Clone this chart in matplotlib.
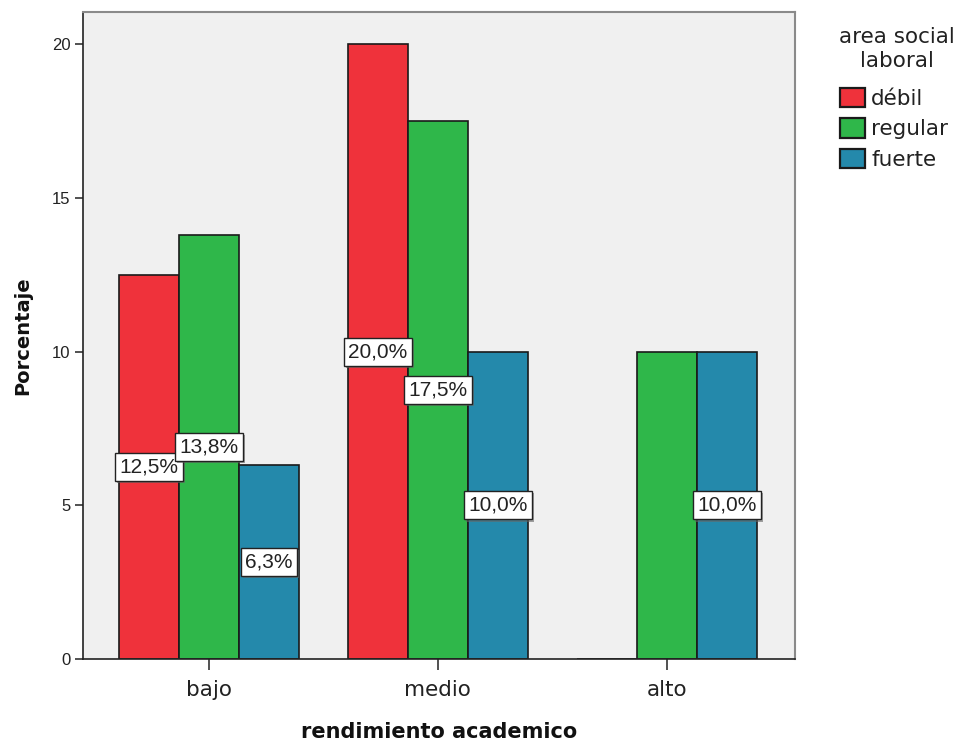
import matplotlib
matplotlib.use("Agg")
import matplotlib.pyplot as plt
import matplotlib.patheffects as pe
import numpy as np

categories = ["bajo", "medio", "alto"]
series_names = ["débil", "regular", "fuerte"]
debil = [12.5, 20.0, 0.0]
regular = [13.8, 17.5, 10.0]
fuerte = [6.3, 10.0, 10.0]
# which bar labels are displayed in the original (alto/regular label is hidden)
show_debil = [True, True, False]
show_regular = [True, True, False]
show_fuerte = [True, True, True]
colors = ["#EF323B", "#2FB74A", "#2489AB"]
legend_title_lines = ["area social", "laboral"]

fig = plt.figure(figsize=(9.65, 7.44), dpi=100)
ax = fig.add_axes([0.086, 0.1142, 0.738, 0.8697])
ax.set_facecolor("#F0F0F0")

x = np.arange(len(categories))
w = 0.262
series = [debil, regular, fuerte]
shows = [show_debil, show_regular, show_fuerte]
handles = []
for i, (vals, shw, col, name) in enumerate(zip(series, shows, colors, series_names)):
    off = (i - 1) * w
    bars = ax.bar(x + off, vals, width=w, color=col, edgecolor="#1a1a1a",
                  linewidth=1.2, label=name, zorder=2)
    handles.append(bars)
    for xi, v, s in zip(x, vals, shw):
        if s and v > 0:
            t = ax.text(xi + off, v / 2, f"{v:.1f}%".replace(".", ","),
                        ha="center", va="center", fontsize=15,
                        family="Liberation Sans", color="#222222", zorder=5,
                        bbox=dict(boxstyle="square,pad=0.22", fc="white",
                                  ec="#222222", lw=1.0))
            t.get_bbox_patch().set_path_effects(
                [pe.withSimplePatchShadow(offset=(1.5, -1.5), shadow_rgbFace="#666666", alpha=0.6)])

ax.set_xlim(-0.55, 2.56)
ax.set_ylim(0, 21.05)
ax.set_xticks(x)
ax.set_xticklabels(categories, fontsize=15.5, family="DejaVu Sans", color="#222222")
ax.set_yticks([0, 5, 10, 15, 20])
ax.set_yticklabels(["0", "5", "10", "15", "20"], fontsize=12, family="Liberation Sans", color="#222222")
ax.tick_params(axis="x", length=8, width=1.2, pad=7, color="#333333")
ax.tick_params(axis="y", length=6, width=1.2, pad=3, color="#333333")

for s in ["top", "right"]:
    ax.spines[s].set_color("#8a8a8a")
    ax.spines[s].set_linewidth(1.5)
for s in ["left", "bottom"]:
    ax.spines[s].set_color("#222222")
    ax.spines[s].set_linewidth(1.2)

ax.set_xlabel("rendimiento academico", fontsize=15, fontweight="bold",
              family="DejaVu Sans", labelpad=16, color="#111111")
ax.set_ylabel("Porcentaje", fontsize=14, fontweight="bold",
              family="DejaVu Sans", labelpad=14, color="#111111")

# legend title (two centred lines) and legend entries
for k, line in enumerate(legend_title_lines):
    fig.text(897 / 965, 1 - (43 + 24 * k) / 744, line, ha="center", va="baseline",
             fontsize=15.5, family="DejaVu Sans", color="#222222")

leg = fig.legend(handles=handles, labels=series_names,
                 loc="upper left", bbox_to_anchor=(840 / 965, 1 - 88 / 744),
                 frameon=False, borderpad=0, borderaxespad=0,
                 prop={"family": "DejaVu Sans", "size": 15.5},
                 handlelength=1.15, handleheight=1.0, handletextpad=0.3,
                 labelspacing=0.43)
for t in leg.get_texts():
    t.set_color("#222222")
for h in leg.legend_handles:
    h.set_linewidth(1.6)

fig.savefig("out.png", dpi=100)
